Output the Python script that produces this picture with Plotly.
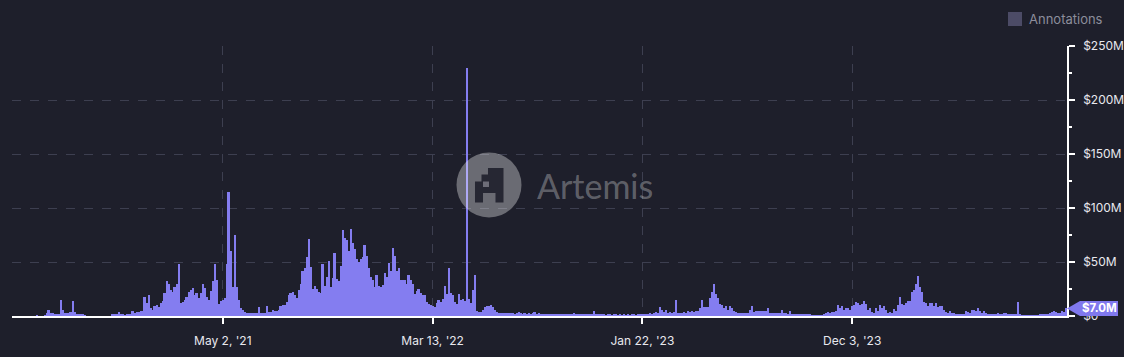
import pandas as pd
import plotly.graph_objects as go

# ---------------- data ----------------
start_date = "2020-06-21"
step_days = 3
volume_musd = [
    0, 0, 0, 0, 0, 0, 0, 0, 0, 0, 0, 0, 0.5, 0, 0, 0,
    0.5, 3, 6, 2.5, 2.5, 1, 1, 1.5, 15, 6, 3, 2.5, 3, 4, 14, 3.5, 1.5, 2, 1.5, 1, 0.5,
    0, 0, 0, 0, 0, 0, 0, 0, 0, 0, 0, 0, 0,
    1, 1.5, 2, 3.5, 1, 1.5, 0.5, 1, 1, 1.5,
    5, 3, 3.5, 4, 5, 5, 18, 12, 19, 7,
    6, 9, 10, 8, 12, 14, 21, 32, 30, 24,
    22, 27, 30, 48, 12, 13, 15, 18, 22, 24,
    26, 19, 21, 17, 21, 30, 26, 18, 15, 23,
    32, 48, 33, 11, 14, 15, 17,
    48, 115, 60, 27, 75, 27, 15, 7, 5.5, 4,
    3, 3, 2.5, 2.5, 2.5, 3, 8, 2.5, 2.5, 2.5,
    9, 4, 4, 6, 5, 4.5, 5.5, 9, 10, 10,
    13, 19, 21, 22, 19, 17, 24, 30, 42, 44,
    55, 71, 45, 25, 28, 25, 22, 21, 48, 28,
    36, 51, 27, 35, 58, 34, 32, 46, 80, 72,
    70, 60, 81, 68, 62, 53, 50, 53, 55, 66,
    56, 44, 36, 33, 27, 38, 28, 27, 29, 40,
    36, 49, 42, 63, 56, 42, 44, 33, 33, 33,
    30, 38, 33, 30, 20, 23, 25, 21, 19, 19,
    13, 11, 10, 9, 8.5,
    12, 15, 13, 16, 28, 20, 44, 21, 19, 13,
    11, 20, 15, 16, 14, 230, 16, 12, 24, 38,
    5, 4, 4, 6, 8, 9, 9, 10, 8, 6,
    4, 3, 2.5, 2.5, 3, 2.5, 3, 2.5, 3, 2,
    2.5, 3.5, 2.5, 2, 3, 2, 2.5, 2, 3, 3.5,
    2, 2.5, 1.5, 2, 1.5, 2, 1.5, 2, 1.5, 2,
    1.5, 1.5, 1, 1.5, 1.5, 2, 1, 1.5, 1.5, 2.5,
    2, 2, 1.5, 2, 1.5, 1.5, 2, 1.5, 2, 5,
    2, 1, 1, 1, 1, 0.5, 1, 1, 0.5, 1.5,
    1, 0.5, 1, 0.5, 1, 0.5, 1, 0.5, 1, 1,
    0.5, 1.5, 2, 2, 2,
    2, 2, 2.5, 2, 3, 4, 2.5, 8, 6, 4,
    5.5, 3, 3.5, 3, 3.5, 15, 3, 3, 3, 3.5,
    3, 5, 4, 5, 4, 5, 5, 7, 15, 8,
    8.5, 8.5, 17, 22, 30, 20, 17, 11, 10, 7,
    9, 6, 9, 7, 5, 4, 3, 3, 3, 2.5,
    3, 3, 5.5, 9, 4, 5, 5, 4.5, 5, 4.5,
    5, 7, 3, 3, 2.5, 3, 3, 2.5, 5.5, 2.5,
    2.5, 2, 5, 2, 1.5, 2, 1.5, 1.5, 1.5, 2,
    1.5, 1, 1, 0.5, 0.5, 0.2, 0.2, 0.2, 0.2, 1,
    3, 4, 3, 3.5, 4, 5, 10, 7, 9, 5.5,
    7, 7, 5.5, 9, 10,
    13, 12, 10, 11, 14, 11, 6, 7, 4, 3,
    7, 5, 10, 7, 9, 6, 3, 4, 3, 6.5,
    5, 10, 18, 11, 10, 12, 14, 14, 22, 24,
    30, 37, 27, 22, 13, 12, 9, 12, 12, 9,
    12, 8, 9, 9, 6, 4, 3, 5, 2.5, 3,
    2, 1.5, 1.5, 1.5, 1.5, 5, 4, 3, 5.5, 6,
    5, 7, 5, 3, 5, 3, 2, 2, 2, 2,
    2, 3, 1, 1, 2.5, 3, 2, 2, 2, 2,
    2, 13, 1, 0.5, 0.5, 0.5, 0.5, 0.5, 0.5, 0.5,
    0.5, 0.5, 1, 1, 1, 1, 1, 3, 4, 5,
    4, 3, 2.5, 5, 4, 7,
]
x_tick_dates = ["2021-05-02", "2022-03-13", "2023-01-22", "2023-12-03"]
x_tick_labels = ["May 2, '21", "Mar 13, '22", "Jan 22, '23", "Dec 3, '23"]
y_tick_values = [0, 50, 100, 150, 200, 250]
y_tick_labels = ["$0", "$50M", "$100M", "$150M", "$200M", "$250M"]
last_label = "$7.0M"

# ---------------- styling ----------------
W, H = 1124, 357
ML, MR, MT, MB = 12, 57, 46, 41
PW, PH = W - ML - MR, H - MT - MB
BG = "#1e1f2b"
BAR = "#847df0"
GRID = "#3d3f50"
FONT = "Inter, Roboto, sans-serif"


def px(x):
    return (x - ML) / PW


def py(y):
    return (H - MB - y) / PH


dates = pd.date_range(start_date, periods=len(volume_musd), freq=f"{step_days}D")
x_start = dates[0] - pd.Timedelta(hours=36)
x_end = dates[-1] + pd.Timedelta(hours=36)

fig = go.Figure(go.Bar(x=dates, y=volume_musd, marker=dict(color=BAR, line=dict(width=0)),
                       hoverinfo="skip"))

fig.update_layout(
    width=W, height=H,
    margin=dict(l=ML, r=MR, t=MT, b=MB, autoexpand=False),
    paper_bgcolor=BG, plot_bgcolor=BG,
    bargap=0, showlegend=False,
    font=dict(family=FONT, color="#e8e8ee", size=12),
)
fig.update_xaxes(
    type="date", range=[x_start, x_end], automargin=False,
    tickvals=x_tick_dates, ticktext=x_tick_labels,
    showline=True, linecolor="white", linewidth=2,
    ticks="outside", ticklen=6, tickwidth=2, tickcolor="white",
    ticklabelstandoff=7,
    showgrid=True, gridcolor=GRID, griddash="dash", gridwidth=1,
    tickfont=dict(size=12, color="#e8e8ee"), zeroline=False,
)
fig.update_yaxes(
    side="right", range=[0, 250], automargin=False,
    tickvals=y_tick_values, ticktext=y_tick_labels,
    showline=True, linecolor="white", linewidth=1.5,
    ticks="outside", ticklen=6, tickwidth=2, tickcolor="white",
    ticklabelstandoff=6,
    minor=dict(dtick=25, ticks="outside", ticklen=3, tickwidth=2, tickcolor="white", showgrid=False),
    showgrid=True, gridcolor=GRID, griddash="dash", gridwidth=1,
    tickfont=dict(size=12, color="#e8e8ee"), zeroline=False,
)

shapes = []
# watermark circle
cx, cy, r = 489, 185, 32.5
shapes.append(dict(type="circle", xref="paper", yref="paper",
                   x0=px(cx - r), x1=px(cx + r), y0=py(cy + r), y1=py(cy - r),
                   fillcolor="rgba(255,255,255,0.34)", line=dict(width=0), layer="above"))
# watermark logo (stepped block glyph)
logo_pts = [(475, 202.5), (475, 181.5), (481.5, 181.5), (481.5, 174.5), (488, 174.5), (488, 168),
            (503.5, 168), (503.5, 202.5), (495.5, 202.5), (495.5, 193), (483, 193), (483, 202.5)]
path = "M " + " L ".join(f"{px(a):.5f},{py(b):.5f}" for a, b in logo_pts) + " Z"
shapes.append(dict(type="path", xref="paper", yref="paper", path=path,
                   fillcolor="#262733", line=dict(width=0), layer="above"))
hole = [(483, 181.5), (489, 181.5), (489, 187), (483, 187)]
path2 = "M " + " L ".join(f"{px(a):.5f},{py(b):.5f}" for a, b in hole) + " Z"
shapes.append(dict(type="path", xref="paper", yref="paper", path=path2,
                   fillcolor="#6d6d78", line=dict(width=0), layer="above"))
# last value tag
tag_c = H - MB - volume_musd[-1] * PH / 250
tag_pts = [(1067, tag_c), (1080, tag_c - 7.5), (1118, tag_c - 7.5), (1118, tag_c + 7.5), (1080, tag_c + 7.5)]
path3 = "M " + " L ".join(f"{px(a):.5f},{py(b):.5f}" for a, b in tag_pts) + " Z"
shapes.append(dict(type="path", xref="paper", yref="paper", path=path3,
                   fillcolor="#8078ee", line=dict(width=0), layer="above"))
# legend square
shapes.append(dict(type="rect", xref="paper", yref="paper",
                   x0=px(1008), x1=px(1022), y0=py(26), y1=py(12),
                   fillcolor="#4c4b66", line=dict(width=0)))
fig.update_layout(shapes=shapes)

fig.add_annotation(x=px(595), y=py(185), xref="paper", yref="paper", text="Artemis",
                   xanchor="center", yanchor="middle", showarrow=False,
                   font=dict(family="Lato, Open Sans, sans-serif", size=34,
                             color="rgba(255,255,255,0.30)"))
fig.add_annotation(x=px(1099), y=py(tag_c), xref="paper", yref="paper", text=f"<b>{last_label}</b>",
                   xanchor="center", yanchor="middle", showarrow=False,
                   font=dict(family=FONT, size=11.5, color="white"))
fig.add_annotation(x=px(1027), y=py(19), xref="paper", yref="paper", text="Annotations",
                   xanchor="left", yanchor="middle", showarrow=False,
                   font=dict(family=FONT, size=13, color="#8c8d9b"))

fig.write_html("out.html", config={"displayModeBar": False},
               post_script="document.body.style.margin='0';document.body.style.background='#1e1f2b';")
